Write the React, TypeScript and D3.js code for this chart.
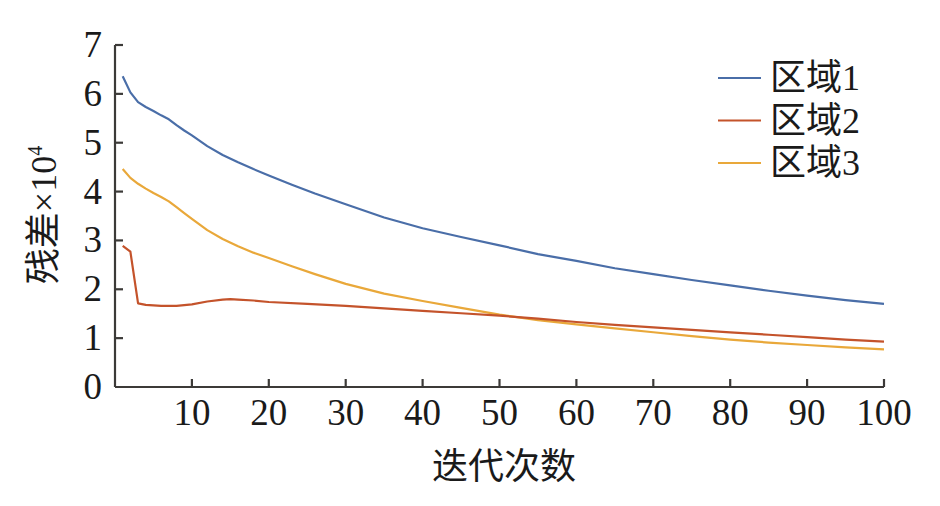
import { useEffect, useRef } from "react";
import * as d3 from "d3";

const iterBlue = [1, 2, 3, 4, 5, 6, 7, 8, 9, 10, 12, 14, 16, 18, 20, 23, 26, 30, 35, 40, 45, 50, 55, 60, 65, 70, 75, 80, 85, 90, 95, 100];
const blueVals = [6.36, 6.03, 5.83, 5.73, 5.65, 5.56, 5.48, 5.36, 5.25, 5.15, 4.93, 4.75, 4.6, 4.46, 4.33, 4.14, 3.96, 3.74, 3.47, 3.25, 3.07, 2.9, 2.72, 2.58, 2.43, 2.31, 2.19, 2.08, 1.97, 1.87, 1.78, 1.7];

const iterRed = [1, 2, 3, 4, 5, 6, 7, 8, 10, 12, 14, 15, 16, 18, 20, 25, 30, 35, 40, 45, 50, 55, 60, 65, 70, 75, 80, 85, 90, 95, 100];
const redVals = [2.89, 2.77, 1.71, 1.68, 1.67, 1.66, 1.66, 1.66, 1.69, 1.75, 1.79, 1.8, 1.79, 1.77, 1.74, 1.7, 1.66, 1.61, 1.56, 1.51, 1.46, 1.4, 1.33, 1.27, 1.22, 1.17, 1.12, 1.07, 1.02, 0.97, 0.93];

const iterGold = [1, 2, 3, 4, 5, 6, 7, 8, 9, 10, 12, 14, 16, 18, 20, 23, 26, 30, 35, 40, 45, 50, 55, 60, 65, 70, 75, 80, 85, 90, 95, 100];
const goldVals = [4.46, 4.28, 4.16, 4.06, 3.97, 3.89, 3.8, 3.68, 3.56, 3.44, 3.21, 3.03, 2.88, 2.75, 2.64, 2.47, 2.31, 2.11, 1.91, 1.76, 1.62, 1.48, 1.37, 1.28, 1.2, 1.12, 1.04, 0.97, 0.91, 0.86, 0.81, 0.77];

const seriesNames = ["区域1", "区域2", "区域3"];
const xTicks = [10, 20, 30, 40, 50, 60, 70, 80, 90, 100];
const yTicks = [0, 1, 2, 3, 4, 5, 6, 7];

export default function App() {
  const svgRef = useRef<SVGSVGElement>(null);

  useEffect(() => {
    const width = 940;
    const height = 506;
    const font = "Liberation Serif, DejaVu Serif, Noto Sans CJK SC, serif";
    const axisColor = "#3c3a38";
    const colors = ["#4a6ea8", "#c4532b", "#e9a83a"];

    const svg = d3.select(svgRef.current);
    svg.selectAll("*").remove();
    svg.attr("width", width).attr("height", height);

    const x = d3.scaleLinear().domain([0, 100]).range([115, 884]);
    const y = d3.scaleLinear().domain([0, 7]).range([387, 45]);

    const series = [
      iterBlue.map((it, i) => [it, blueVals[i]] as [number, number]),
      iterRed.map((it, i) => [it, redVals[i]] as [number, number]),
      iterGold.map((it, i) => [it, goldVals[i]] as [number, number]),
    ];

    const line = d3
      .line<[number, number]>()
      .x((d) => x(d[0]))
      .y((d) => y(d[1]));

    // lines (gold before red so red sits on top like the original)
    [0, 2, 1].forEach((k) => {
      svg
        .append("path")
        .datum(series[k])
        .attr("d", line)
        .attr("fill", "none")
        .attr("stroke", colors[k])
        .attr("stroke-width", 2.2)
        .attr("stroke-linejoin", "round");
    });

    // Axes
    svg
      .append("line")
      .attr("x1", x(0))
      .attr("x2", x(0))
      .attr("y1", y(7))
      .attr("y2", y(0))
      .attr("stroke", axisColor)
      .attr("stroke-width", 2.2);
    svg
      .append("line")
      .attr("x1", x(0))
      .attr("x2", x(100))
      .attr("y1", y(0))
      .attr("y2", y(0))
      .attr("stroke", axisColor)
      .attr("stroke-width", 2.2);

    svg
      .selectAll(".ytick")
      .data(yTicks.filter((t) => t > 0))
      .enter()
      .append("line")
      .attr("x1", x(0))
      .attr("x2", x(0) + 8)
      .attr("y1", (d) => y(d))
      .attr("y2", (d) => y(d))
      .attr("stroke", axisColor)
      .attr("stroke-width", 2.2);

    svg
      .selectAll(".xtick")
      .data(xTicks)
      .enter()
      .append("line")
      .attr("x1", (d) => x(d))
      .attr("x2", (d) => x(d))
      .attr("y1", y(0))
      .attr("y2", y(0) - 8)
      .attr("stroke", axisColor)
      .attr("stroke-width", 2.2);

    svg
      .selectAll(".ylabel")
      .data(yTicks)
      .enter()
      .append("text")
      .attr("x", x(0) - 13)
      .attr("y", (d) => y(d) + 12)
      .attr("text-anchor", "end")
      .attr("font-family", font)
      .attr("font-size", 37)
      .attr("fill", "#1a1a1a")
      .text((d) => d);

    svg
      .selectAll(".xlabel")
      .data(xTicks)
      .enter()
      .append("text")
      .attr("x", (d) => x(d))
      .attr("y", 425)
      .attr("text-anchor", "middle")
      .attr("font-family", font)
      .attr("font-size", 37)
      .attr("fill", "#1a1a1a")
      .text((d) => d);

    // axis titles
    svg
      .append("text")
      .attr("x", 504)
      .attr("y", 479)
      .attr("text-anchor", "middle")
      .attr("font-family", font)
      .attr("font-size", 36)
      .attr("fill", "#1a1a1a")
      .text("迭代次数");

    const yt = svg
      .append("text")
      .attr("transform", "translate(56,215) rotate(-90)")
      .attr("text-anchor", "middle")
      .attr("font-family", font)
      .attr("font-size", 36)
      .attr("fill", "#1a1a1a");
    yt.append("tspan").text("残差×10");
    yt.append("tspan").attr("font-size", 20).attr("dy", -14).text("4");

    // Legend
    seriesNames.forEach((name, i) => {
      const ly = 78 + i * 42.5;
      svg
        .append("line")
        .attr("x1", 718)
        .attr("x2", 761)
        .attr("y1", ly)
        .attr("y2", ly)
        .attr("stroke", colors[i])
        .attr("stroke-width", 2.2);
      svg
        .append("text")
        .attr("x", 770)
        .attr("y", ly + 12)
        .attr("font-family", font)
        .attr("font-size", 36)
        .attr("fill", "#1a1a1a")
        .text(name);
    });
  }, []);

  return (
    <svg
      ref={svgRef}
      style={{ position: "absolute", left: 0, top: 0, background: "#fff" }}
    />
  );
}
